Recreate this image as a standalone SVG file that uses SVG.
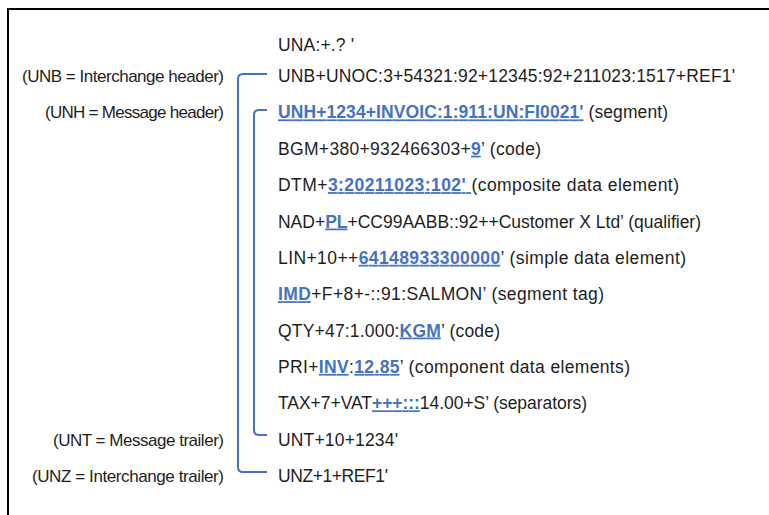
<svg xmlns="http://www.w3.org/2000/svg" width="769" height="515" viewBox="0 0 769 515">
  <style>
    .seg { font-family: "Liberation Sans", Arial, sans-serif; font-size: 17.5px; fill: #1e1e1e; }
    .note { font-family: "Liberation Sans", Arial, sans-serif; font-size: 17px; fill: #1e1e1e; }
    .hl { fill: #4472c4; font-weight: bold; text-decoration: underline; }
    .bracket { fill: none; stroke: #4472c4; stroke-width: 2; }
    .frame { fill: none; stroke: #000; stroke-width: 2; }
  </style>
  <rect width="769" height="515" fill="#fff"/>
  <!-- page frame (top and left edges only) -->
  <path class="frame" d="M8,515 V9 H769"/>

  <!-- left-hand annotations -->
  <g id="label-unb"><text class="note" x="22" y="82" textLength="202">(UNB = Interchange header)</text></g>
  <g id="label-unh"><text class="note" x="45" y="118.4" textLength="179">(UNH = Message header)</text></g>
  <g id="label-unt"><text class="note" x="53" y="445.6" textLength="171">(UNT = Message trailer)</text></g>
  <g id="label-unz"><text class="note" x="32" y="482" textLength="192">(UNZ = Interchange trailer)</text></g>

  <!-- interchange / message brackets -->
  <g id="connectors">
    <path class="bracket" d="M267,74 H243 Q238,74 238,79 V467 Q238,472 243,472 H267"/>
    <path class="bracket" d="M267,110 H259 Q254,110 254,115 V430 Q254,435 259,435 H267"/>
  </g>

  <!-- EDIFACT segments -->
  <g id="seg-una"><text class="seg" x="278" y="51" textLength="76">UNA:+.? '</text></g>
  <g id="seg-unb"><text class="seg" x="278" y="82" textLength="457">UNB+UNOC:3+54321:92+12345:92+211023:1517+REF1'</text></g>
  <g id="seg-unh"><text class="seg" x="278" y="118.4" textLength="390"><tspan class="hl">UNH+1234+INVOIC:1:911:UN:FI0021'</tspan> (segment)</text></g>
  <g id="seg-bgm"><text class="seg" x="278" y="154.7" textLength="263">BGM+380+932466303+<tspan class="hl">9</tspan>’ (code)</text></g>
  <g id="seg-dtm"><text class="seg" x="278" y="191.1" textLength="401">DTM+<tspan class="hl">3:20211023:102' </tspan>(composite data element)</text></g>
  <g id="seg-nad"><text class="seg" x="278" y="227.5" textLength="423">NAD+<tspan class="hl">PL</tspan>+CC99AABB::92++Customer X Ltd’ (qualifier)</text></g>
  <g id="seg-lin"><text class="seg" x="278" y="263.8" textLength="408">LIN+10++<tspan class="hl">64148933300000</tspan>’ (simple data element)</text></g>
  <g id="seg-imd"><text class="seg" x="278" y="300.2" textLength="326"><tspan class="hl">IMD</tspan>+F+8+-::91:SALMON’ (segment tag)</text></g>
  <g id="seg-qty"><text class="seg" x="278" y="336.5" textLength="222">QTY+47:1.000:<tspan class="hl">KGM</tspan>’ (code)</text></g>
  <g id="seg-pri"><text class="seg" x="278" y="372.9" textLength="352">PRI+<tspan class="hl">INV</tspan>:<tspan class="hl">12.85</tspan>’ (component data elements)</text></g>
  <g id="seg-tax"><text class="seg" x="278" y="409.3" textLength="309">TAX+7+VAT<tspan class="hl">+++:::</tspan>14.00+S’ (separators)</text></g>
  <g id="seg-unt"><text class="seg" x="278" y="445.6" textLength="120">UNT+10+1234'</text></g>
  <g id="seg-unz"><text class="seg" x="278" y="482" textLength="110">UNZ+1+REF1'</text></g>
</svg>
